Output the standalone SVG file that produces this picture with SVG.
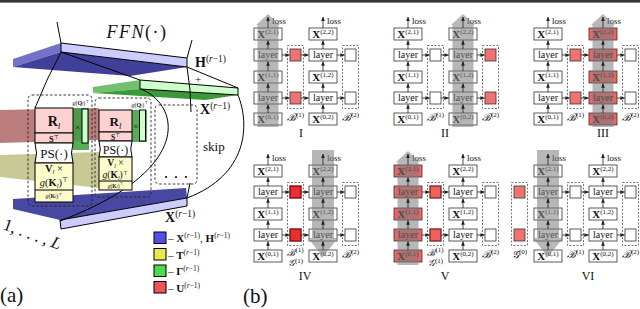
<svg xmlns="http://www.w3.org/2000/svg" width="640" height="309" viewBox="0 0 640 309">
<defs>
<marker id="ah" viewBox="0 0 6 6" refX="5.5" refY="3" markerWidth="4.5" markerHeight="4.5" markerUnits="userSpaceOnUse" orient="auto"><path d="M0,0.5 L6,3 L0,5.5 z" fill="#222"/></marker>
<style>
.t{font-family:"Liberation Serif","DejaVu Serif",serif;fill:#111}
.m{text-anchor:middle}
.xl{font-size:11px;text-anchor:middle}
.ly{font-size:10px;text-anchor:middle}
.ls{font-size:9px}
.sp{font-size:7px;font-style:normal}
.bl{font-size:10.5px;text-anchor:middle;font-style:italic}
.bs{font-size:9.5px;text-anchor:middle;font-style:italic}
.rn{font-size:12px;text-anchor:middle}
.b{font-weight:bold}
.i{font-style:italic}
.bx{fill:#fff;stroke:#333;stroke-width:0.8}
.rb{fill:#ee6464;stroke:#333;stroke-width:0.8}
.sq{fill:#fff;stroke:#333;stroke-width:0.8}
.sqr{fill:#f07272;stroke:#333;stroke-width:0.8}
.sqd{fill:#e83030;stroke:#8a0c0c;stroke-width:1.4}
.sqv{fill:#f06060;stroke:#7a2020;stroke-width:1.3}
.db{fill:none;stroke:#555;stroke-width:0.8;stroke-dasharray:2 1.5}
.ar{fill:none;stroke:#222;stroke-width:0.8;marker-end:url(#ah)}
.ga{fill:#7c7c7c;fill-opacity:0.55}
.ln{fill:none;stroke:#000;stroke-width:1}
.dsh{fill:none;stroke:#222;stroke-width:0.9;stroke-dasharray:2.5 2}
.pk{fill:#fcd2d2;stroke:#000;stroke-width:1}
.yl{fill:#fbfbcc;stroke:#000;stroke-width:1}
.lg{stroke:#000;stroke-width:1}
</style>
</defs>
<rect x="0" y="0" width="640" height="2.6" fill="#333"/>

<!-- panel (a) background bands -->
<g id="bands">
<polygon points="0,110 99,108 99,140 0,143" fill="#983838" fill-opacity="0.65"/>
<polygon points="0,155 99,152 99,188 0,177" fill="#a5a550" fill-opacity="0.6"/>
<rect x="73" y="108" width="16" height="42" fill="#3c9c3c" fill-opacity="0.85"/>
<rect x="132" y="110" width="15" height="32" fill="#3c9c3c" fill-opacity="0.85"/>
</g>

<g id="plate-H">
<polygon points="13,59 61,43 61,52 13,67" fill="#7272c6"/>
<polygon points="61,52 187,67 130,76 13,67" fill="#40409a"/>
<polygon points="61,43 187,58 187,67 61,52" fill="#ccccff" stroke="#000" stroke-width="1"/>
<text class="t" x="195" y="67" font-size="14"><tspan class="b">H</tspan><tspan font-size="9.5" dy="-5">(<tspan class="i">r</tspan>−1)</tspan></text>
</g>
<g id="plate-green">
<polygon points="93,87 140,80 140,89 93,93" fill="#70c070"/>
<polygon points="140,89 238,95 205,100 93,93" fill="#3a9a3a"/>
<polygon points="140,80 238,88 238,95 140,89" fill="#ccffcc" stroke="#000" stroke-width="1"/>
<text class="t m" x="198" y="83" font-size="11">+</text>
<text class="t" x="200" y="114" font-size="14"><tspan class="b">X</tspan><tspan font-size="9.5" dy="-5">(<tspan class="i">r</tspan>−1)</tspan></text>
</g>
<g id="plate-X">
<polygon points="13,199 186,188 187,198 60,220 13,209" fill="#4848a2"/>
<polygon points="60,220 187,198 187,206 61,229" fill="#ccccff" stroke="#000" stroke-width="1"/>
<text class="t" x="165" y="222" font-size="14"><tspan class="b">X</tspan><tspan font-size="9.5" dy="-5">(<tspan class="i">r</tspan>−1)</tspan></text>
</g>

<g id="connectors-a">
<path class="ln" d="M57,22 L61,43"/>
<path class="ln" d="M192,40 L187,58"/>
<path class="ln" d="M61,52 L140,80"/>
<path class="ln" d="M187,67 L238,88"/>
<path class="ln" d="M61,52 Q47,78 35,108"/>
<path class="ln" d="M187,67 L190,90 L191,112"/>
<path class="ln" d="M190,183 L187,198"/>
<path class="ln" d="M141,89 C180,105 195,170 60,221"/>
<path class="ln" d="M238,95 C250,125 248,175 187,198"/>
</g>

<text class="t m" x="137" y="38" font-size="18" letter-spacing="1.5"><tspan class="i">FFN</tspan>(·)</text>

<g id="head-1">
<rect class="dsh" x="28" y="95" width="64" height="111" rx="4"/>
<rect class="pk" x="35" y="108" width="38" height="25"/>
<rect class="pk" x="35" y="133" width="38" height="10"/>
<path d="M35,143 L73,143 Q70,153 73,163 L35,163 Q38,153 35,143 Z" fill="#fff" stroke="#000" stroke-width="1"/>
<rect class="yl" x="35" y="163" width="38" height="39"/>
<path class="ln" d="M35,190 H73"/>
<rect x="82" y="109" width="6" height="34" fill="#ccffcc" stroke="#000" stroke-width="1"/>
<text class="t m" x="54" y="126" font-size="14"><tspan class="b">R</tspan><tspan class="i" font-size="9" dy="3">l</tspan></text>
<text class="t m" x="54" y="141.5" font-size="8.5"><tspan class="b">S</tspan><tspan font-size="5.5" dy="-3">⊤</tspan></text>
<text class="t m" x="54" y="158" font-size="13">PS(·)</text>
<text class="t m" x="54" y="172" font-size="10.5"><tspan class="b">V</tspan><tspan class="i" font-size="6.5" dy="1.5">l</tspan><tspan dy="-1.5"> ×</tspan></text>
<text class="t m" x="54" y="186" font-size="10.5"><tspan class="i">g</tspan>(<tspan class="b">K</tspan><tspan class="i" font-size="6.5" dy="1.5">l</tspan><tspan dy="-1.5">)</tspan><tspan font-size="6.5" dy="-4">⊤</tspan></text>
<text class="t m" x="54" y="198" font-size="6"><tspan class="i">g</tspan>(<tspan class="b">K</tspan><tspan class="i" font-size="4.5">l</tspan>)<tspan font-size="4.5" dy="-2.5">⊤</tspan></text>
<text class="t m" x="77.5" y="129.5" font-size="9" fill="#333">×</text>
<text class="t m" x="81" y="105" font-size="6"><tspan class="i">g</tspan>(<tspan class="b">Q</tspan><tspan class="i" font-size="4.5">l</tspan>)<tspan font-size="4.5" dy="-2.5">⊤</tspan></text>
</g>

<g id="head-2">
<rect class="dsh" x="95" y="98" width="56" height="99" rx="4"/>
<rect class="pk" x="99" y="110" width="33" height="22"/>
<rect class="pk" x="99" y="132" width="33" height="9"/>
<path d="M99,141 L132,141 Q129.5,149 132,157 L99,157 Q101.5,149 99,141 Z" fill="#fff" stroke="#000" stroke-width="1"/>
<rect class="yl" x="99" y="157" width="33" height="33"/>
<path class="ln" d="M99,181 H132"/>
<rect x="139.5" y="110" width="6" height="31" fill="#ccffcc" stroke="#000" stroke-width="1"/>
<text class="t m" x="115.5" y="126" font-size="13"><tspan class="b">R</tspan><tspan class="i" font-size="8.5" dy="3">l</tspan></text>
<text class="t m" x="115.5" y="139.5" font-size="7.5"><tspan class="b">S</tspan><tspan font-size="5" dy="-3">⊤</tspan></text>
<text class="t m" x="115.5" y="153.5" font-size="12">PS(·)</text>
<text class="t m" x="115.5" y="166" font-size="9.5"><tspan class="b">V</tspan><tspan class="i" font-size="6" dy="1.5">l</tspan><tspan dy="-1.5"> ×</tspan></text>
<text class="t m" x="115.5" y="178" font-size="9.5"><tspan class="i">g</tspan>(<tspan class="b">K</tspan><tspan class="i" font-size="6" dy="1.5">l</tspan><tspan dy="-1.5">)</tspan><tspan font-size="6" dy="-3.5">⊤</tspan></text>
<text class="t m" x="115.5" y="187.5" font-size="5.5"><tspan class="i">g</tspan>(<tspan class="b">K</tspan><tspan class="i" font-size="4">l</tspan>)<tspan font-size="4" dy="-2.5">⊤</tspan></text>
<text class="t m" x="135.8" y="128.5" font-size="9" fill="#333">×</text>
<text class="t m" x="140" y="106.5" font-size="6"><tspan class="i">g</tspan>(<tspan class="b">Q</tspan><tspan class="i" font-size="4.5">l</tspan>)<tspan font-size="4.5" dy="-2.5">⊤</tspan></text>
</g>

<g id="skip-box">
<rect class="dsh" x="155" y="105" width="42" height="79" rx="4"/>
<circle cx="166" cy="177" r="1"/><circle cx="176" cy="177" r="1"/><circle cx="186" cy="177" r="1"/>
<text class="t" x="203" y="151" font-size="13">skip</text>
</g>

<text class="t" transform="translate(2,229) rotate(20)" font-size="17">1, . . . , <tspan class="i">L</tspan></text>

<g id="legend">
<g id="leg-X"><rect class="lg" x="154" y="232" width="12" height="11.5" fill="#5050e8"/><text class="t" x="168" y="242" font-size="11">– <tspan class="b">X</tspan><tspan font-size="7.5" dy="-4">(<tspan class="i">r</tspan>−1)</tspan><tspan dy="4">, </tspan><tspan class="b">H</tspan><tspan font-size="7.5" dy="-4">(<tspan class="i">r</tspan>−1)</tspan></text></g>
<g id="leg-T"><rect class="lg" x="154" y="248.5" width="12" height="11.5" fill="#e8e850"/><text class="t" x="168" y="258.5" font-size="11">– <tspan class="b">T</tspan><tspan font-size="7.5" dy="-4">(<tspan class="i">r</tspan>−1)</tspan></text></g>
<g id="leg-G"><rect class="lg" x="154" y="265" width="12" height="11.5" fill="#50d850"/><text class="t" x="168" y="275" font-size="11">– <tspan class="b">Γ</tspan><tspan font-size="7.5" dy="-4">(<tspan class="i">r</tspan>−1)</tspan></text></g>
<g id="leg-U"><rect class="lg" x="154" y="281.5" width="12" height="11.5" fill="#ee5555"/><text class="t" x="168" y="291.5" font-size="11">– <tspan class="b">U</tspan><tspan font-size="7.5" dy="-4">(<tspan class="i">r</tspan>−1)</tspan></text></g>
</g>

<text class="t" x="0" y="302" font-size="21">(a)</text>
<text class="t" x="243" y="303" font-size="21">(b)</text>

<!-- ===== panel (b) ===== -->
<g id="diagram-I">
<g id="I-B1"><rect class="db" x="287.5" y="45.5" width="16" height="63"/><rect class="sqr" x="290" y="49" width="11" height="12"/><rect class="sqr" x="290" y="92" width="11" height="12"/></g>
<g id="I-B2"><rect class="db" x="342.5" y="45.5" width="16" height="63"/><rect class="sq" x="345" y="49" width="11" height="12"/><rect class="sq" x="345" y="92" width="11" height="12"/></g>
<g id="I-x21"><rect class="bx" x="254" y="28" width="28" height="12"/><text class="t xl" x="268" y="37.5"><tspan class="b">X</tspan><tspan class="sp" dy="-4">(2,1)</tspan></text></g>
<g id="I-l2a"><rect class="bx" x="254" y="49" width="28" height="12"/><text class="t ly" x="268" y="58">layer</text></g>
<g id="I-x11"><rect class="bx" x="254" y="71" width="28" height="12"/><text class="t xl" x="268" y="80.5"><tspan class="b">X</tspan><tspan class="sp" dy="-4">(1,1)</tspan></text></g>
<g id="I-l1a"><rect class="bx" x="254" y="92" width="28" height="12"/><text class="t ly" x="268" y="101">layer</text></g>
<g id="I-x01"><rect class="bx" x="254" y="113" width="28" height="12"/><text class="t xl" x="268" y="122.5"><tspan class="b">X</tspan><tspan class="sp" dy="-4">(0,1)</tspan></text></g>
<g id="I-x22"><rect class="bx" x="309" y="28" width="28" height="12"/><text class="t xl" x="323" y="37.5"><tspan class="b">X</tspan><tspan class="sp" dy="-4">(2,2)</tspan></text></g>
<g id="I-l2b"><rect class="bx" x="309" y="49" width="28" height="12"/><text class="t ly" x="323" y="58">layer</text></g>
<g id="I-x12"><rect class="bx" x="309" y="71" width="28" height="12"/><text class="t xl" x="323" y="80.5"><tspan class="b">X</tspan><tspan class="sp" dy="-4">(1,2)</tspan></text></g>
<g id="I-l1b"><rect class="bx" x="309" y="92" width="28" height="12"/><text class="t ly" x="323" y="101">layer</text></g>
<g id="I-x02"><rect class="bx" x="309" y="113" width="28" height="12"/><text class="t xl" x="323" y="122.5"><tspan class="b">X</tspan><tspan class="sp" dy="-4">(0,2)</tspan></text></g>
<text class="t ls" x="272" y="24">loss</text><text class="t ls" x="327" y="24">loss</text>
<text class="t bl" x="295.5" y="121">ℬ<tspan class="sp" dy="-4">(1)</tspan></text>
<text class="t bl" x="350.5" y="121">ℬ<tspan class="sp" dy="-4">(2)</tspan></text>
<polygon class="ga" points="257.5,127 278.5,127 278.5,25 280,25 268,14 256,25 257.5,25"/>
<text class="t rn" x="301" y="137">I</text>
</g>

<g id="diagram-II">
<g id="II-B1"><rect class="db" x="427.5" y="45.5" width="16" height="63"/><rect class="sq" x="430" y="49" width="11" height="12"/><rect class="sq" x="430" y="92" width="11" height="12"/></g>
<g id="II-B2"><rect class="db" x="482.5" y="45.5" width="16" height="63"/><rect class="sqr" x="485" y="49" width="11" height="12"/><rect class="sqr" x="485" y="92" width="11" height="12"/></g>
<g id="II-x21"><rect class="bx" x="394" y="28" width="28" height="12"/><text class="t xl" x="408" y="37.5"><tspan class="b">X</tspan><tspan class="sp" dy="-4">(2,1)</tspan></text></g>
<g id="II-l2a"><rect class="bx" x="394" y="49" width="28" height="12"/><text class="t ly" x="408" y="58">layer</text></g>
<g id="II-x11"><rect class="bx" x="394" y="71" width="28" height="12"/><text class="t xl" x="408" y="80.5"><tspan class="b">X</tspan><tspan class="sp" dy="-4">(1,1)</tspan></text></g>
<g id="II-l1a"><rect class="bx" x="394" y="92" width="28" height="12"/><text class="t ly" x="408" y="101">layer</text></g>
<g id="II-x01"><rect class="bx" x="394" y="113" width="28" height="12"/><text class="t xl" x="408" y="122.5"><tspan class="b">X</tspan><tspan class="sp" dy="-4">(0,1)</tspan></text></g>
<g id="II-x22"><rect class="bx" x="449" y="28" width="28" height="12"/><text class="t xl" x="463" y="37.5"><tspan class="b">X</tspan><tspan class="sp" dy="-4">(2,2)</tspan></text></g>
<g id="II-l2b"><rect class="bx" x="449" y="49" width="28" height="12"/><text class="t ly" x="463" y="58">layer</text></g>
<g id="II-x12"><rect class="bx" x="449" y="71" width="28" height="12"/><text class="t xl" x="463" y="80.5"><tspan class="b">X</tspan><tspan class="sp" dy="-4">(1,2)</tspan></text></g>
<g id="II-l1b"><rect class="bx" x="449" y="92" width="28" height="12"/><text class="t ly" x="463" y="101">layer</text></g>
<g id="II-x02"><rect class="bx" x="449" y="113" width="28" height="12"/><text class="t xl" x="463" y="122.5"><tspan class="b">X</tspan><tspan class="sp" dy="-4">(0,2)</tspan></text></g>
<text class="t ls" x="412" y="24">loss</text><text class="t ls" x="467" y="24">loss</text>
<text class="t bl" x="435.5" y="121">ℬ<tspan class="sp" dy="-4">(1)</tspan></text>
<text class="t bl" x="490.5" y="121">ℬ<tspan class="sp" dy="-4">(2)</tspan></text>
<polygon class="ga" points="452.5,127 473.5,127 473.5,25 475,25 463,14 451,25 452.5,25"/>
<text class="t rn" x="445" y="137">II</text>
</g>

<g id="diagram-III">
<g id="III-B1"><rect class="db" x="567.5" y="45.5" width="16" height="63"/><rect class="sqr" x="570" y="49" width="11" height="12"/><rect class="sqr" x="570" y="92" width="11" height="12"/></g>
<g id="III-B2"><rect class="db" x="622.5" y="45.5" width="16" height="63"/><rect class="sq" x="625" y="49" width="11" height="12"/><rect class="sq" x="625" y="92" width="11" height="12"/></g>
<g id="III-x21"><rect class="bx" x="534" y="28" width="28" height="12"/><text class="t xl" x="548" y="37.5"><tspan class="b">X</tspan><tspan class="sp" dy="-4">(2,1)</tspan></text></g>
<g id="III-l2a"><rect class="bx" x="534" y="49" width="28" height="12"/><text class="t ly" x="548" y="58">layer</text></g>
<g id="III-x11"><rect class="bx" x="534" y="71" width="28" height="12"/><text class="t xl" x="548" y="80.5"><tspan class="b">X</tspan><tspan class="sp" dy="-4">(1,1)</tspan></text></g>
<g id="III-l1a"><rect class="bx" x="534" y="92" width="28" height="12"/><text class="t ly" x="548" y="101">layer</text></g>
<g id="III-x01"><rect class="bx" x="534" y="113" width="28" height="12"/><text class="t xl" x="548" y="122.5"><tspan class="b">X</tspan><tspan class="sp" dy="-4">(0,1)</tspan></text></g>
<g id="III-x22"><rect class="rb" x="589" y="28" width="28" height="12"/><text class="t xl" x="603" y="37.5"><tspan class="b">X</tspan><tspan class="sp" dy="-4">(2,2)</tspan></text></g>
<g id="III-l2b"><rect class="rb" x="589" y="49" width="28" height="12"/><text class="t ly" x="603" y="58">layer</text></g>
<g id="III-x12"><rect class="rb" x="589" y="71" width="28" height="12"/><text class="t xl" x="603" y="80.5"><tspan class="b">X</tspan><tspan class="sp" dy="-4">(1,2)</tspan></text></g>
<g id="III-l1b"><rect class="rb" x="589" y="92" width="28" height="12"/><text class="t ly" x="603" y="101">layer</text></g>
<g id="III-x02"><rect class="rb" x="589" y="113" width="28" height="12"/><text class="t xl" x="603" y="122.5"><tspan class="b">X</tspan><tspan class="sp" dy="-4">(0,2)</tspan></text></g>
<text class="t ls" x="552" y="24">loss</text><text class="t ls" x="607" y="24">loss</text>
<text class="t bl" x="575.5" y="121">ℬ<tspan class="sp" dy="-4">(1)</tspan></text>
<text class="t bl" x="630.5" y="121">ℬ<tspan class="sp" dy="-4">(2)</tspan></text>
<polygon class="ga" points="592.5,127 613.5,127 613.5,25 615,25 603,14 591,25 592.5,25"/>
<text class="t rn" x="603" y="137">III</text>
</g>

<g id="diagram-IV">
<g id="IV-B1"><rect class="db" x="287.5" y="182.5" width="16" height="63"/><rect class="sqd" x="290" y="186" width="11" height="12"/><rect class="sqd" x="290" y="229" width="11" height="12"/></g>
<g id="IV-B2"><rect class="db" x="342.5" y="182.5" width="16" height="63"/><rect class="sq" x="345" y="186" width="11" height="12"/><rect class="sq" x="345" y="229" width="11" height="12"/></g>
<g id="IV-x21"><rect class="bx" x="254" y="165" width="28" height="12"/><text class="t xl" x="268" y="174.5"><tspan class="b">X</tspan><tspan class="sp" dy="-4">(2,1)</tspan></text></g>
<g id="IV-l2a"><rect class="bx" x="254" y="186" width="28" height="12"/><text class="t ly" x="268" y="195">layer</text></g>
<g id="IV-x11"><rect class="bx" x="254" y="208" width="28" height="12"/><text class="t xl" x="268" y="217.5"><tspan class="b">X</tspan><tspan class="sp" dy="-4">(1,1)</tspan></text></g>
<g id="IV-l1a"><rect class="bx" x="254" y="229" width="28" height="12"/><text class="t ly" x="268" y="238">layer</text></g>
<g id="IV-x01"><rect class="bx" x="254" y="250" width="28" height="12"/><text class="t xl" x="268" y="259.5"><tspan class="b">X</tspan><tspan class="sp" dy="-4">(0,1)</tspan></text></g>
<g id="IV-x22"><rect class="bx" x="309" y="165" width="28" height="12"/><text class="t xl" x="323" y="174.5"><tspan class="b">X</tspan><tspan class="sp" dy="-4">(2,2)</tspan></text></g>
<g id="IV-l2b"><rect class="bx" x="309" y="186" width="28" height="12"/><text class="t ly" x="323" y="195">layer</text></g>
<g id="IV-x12"><rect class="bx" x="309" y="208" width="28" height="12"/><text class="t xl" x="323" y="217.5"><tspan class="b">X</tspan><tspan class="sp" dy="-4">(1,2)</tspan></text></g>
<g id="IV-l1b"><rect class="bx" x="309" y="229" width="28" height="12"/><text class="t ly" x="323" y="238">layer</text></g>
<g id="IV-x02"><rect class="bx" x="309" y="250" width="28" height="12"/><text class="t xl" x="323" y="259.5"><tspan class="b">X</tspan><tspan class="sp" dy="-4">(0,2)</tspan></text></g>
<text class="t ls" x="272" y="161">loss</text><text class="t ls" x="327" y="161">loss</text>
<text class="t bs" x="295.5" y="255.5">ℬ<tspan class="sp" font-size="6.5" dy="-3.5">(1)</tspan></text>
<text class="t bs" x="295.5" y="266">𝒢<tspan class="sp" font-size="6.5" dy="-3.5">(1)</tspan></text>
<text class="t bl" x="350.5" y="258">ℬ<tspan class="sp" dy="-4">(2)</tspan></text>
<polygon class="ga" points="312,150 334,150 334,238 338,238 323,257 308,238 312,238"/>
<text class="t rn" x="305" y="280">IV</text>
</g>

<g id="diagram-V">
<g id="V-B1"><rect class="db" x="427.5" y="182.5" width="16" height="63"/><rect class="sqv" x="430" y="186" width="11" height="12"/><rect class="sqv" x="430" y="229" width="11" height="12"/></g>
<g id="V-B2"><rect class="db" x="482.5" y="182.5" width="16" height="63"/><rect class="sq" x="485" y="186" width="11" height="12"/><rect class="sq" x="485" y="229" width="11" height="12"/></g>
<g id="V-x21"><rect class="rb" x="394" y="165" width="28" height="12"/><text class="t xl" x="408" y="174.5"><tspan class="b">X</tspan><tspan class="sp" dy="-4">(2,1)</tspan></text></g>
<g id="V-l2a"><rect class="rb" x="394" y="186" width="28" height="12"/><text class="t ly" x="408" y="195">layer</text></g>
<g id="V-x11"><rect class="rb" x="394" y="208" width="28" height="12"/><text class="t xl" x="408" y="217.5"><tspan class="b">X</tspan><tspan class="sp" dy="-4">(1,1)</tspan></text></g>
<g id="V-l1a"><rect class="rb" x="394" y="229" width="28" height="12"/><text class="t ly" x="408" y="238">layer</text></g>
<g id="V-x01"><rect class="rb" x="394" y="250" width="28" height="12"/><text class="t xl" x="408" y="259.5"><tspan class="b">X</tspan><tspan class="sp" dy="-4">(0,1)</tspan></text></g>
<g id="V-x22"><rect class="bx" x="449" y="165" width="28" height="12"/><text class="t xl" x="463" y="174.5"><tspan class="b">X</tspan><tspan class="sp" dy="-4">(2,2)</tspan></text></g>
<g id="V-l2b"><rect class="bx" x="449" y="186" width="28" height="12"/><text class="t ly" x="463" y="195">layer</text></g>
<g id="V-x12"><rect class="bx" x="449" y="208" width="28" height="12"/><text class="t xl" x="463" y="217.5"><tspan class="b">X</tspan><tspan class="sp" dy="-4">(1,2)</tspan></text></g>
<g id="V-l1b"><rect class="bx" x="449" y="229" width="28" height="12"/><text class="t ly" x="463" y="238">layer</text></g>
<g id="V-x02"><rect class="bx" x="449" y="250" width="28" height="12"/><text class="t xl" x="463" y="259.5"><tspan class="b">X</tspan><tspan class="sp" dy="-4">(0,2)</tspan></text></g>
<text class="t ls" x="412" y="161">loss</text><text class="t ls" x="467" y="161">loss</text>
<text class="t bs" x="435.5" y="255.5">ℬ<tspan class="sp" font-size="6.5" dy="-3.5">(1)</tspan></text>
<text class="t bs" x="435.5" y="266">𝒢<tspan class="sp" font-size="6.5" dy="-3.5">(1)</tspan></text>
<text class="t bl" x="490.5" y="258">ℬ<tspan class="sp" dy="-4">(2)</tspan></text>
<polygon class="ga" points="397.5,265 418.5,265 418.5,162 420,162 408,151 396,162 397.5,162"/>
<text class="t rn" x="445" y="280">V</text>
</g>

<g id="diagram-VI">
<g id="VI-G0"><rect class="db" x="511.5" y="182.5" width="16" height="63"/><rect class="sqr" x="514" y="186" width="11" height="12"/><rect class="sqr" x="514" y="229" width="11" height="12"/></g>
<g id="VI-B1"><rect class="db" x="567.5" y="182.5" width="16" height="63"/><rect class="sq" x="570" y="186" width="11" height="12"/><rect class="sq" x="570" y="229" width="11" height="12"/></g>
<g id="VI-B2"><rect class="db" x="622.5" y="182.5" width="16" height="63"/><rect class="sq" x="625" y="186" width="11" height="12"/><rect class="sq" x="625" y="229" width="11" height="12"/></g>
<g id="VI-x21"><rect class="bx" x="534" y="165" width="28" height="12"/><text class="t xl" x="548" y="174.5"><tspan class="b">X</tspan><tspan class="sp" dy="-4">(2,1)</tspan></text></g>
<g id="VI-l2a"><rect class="bx" x="534" y="186" width="28" height="12"/><text class="t ly" x="548" y="195">layer</text></g>
<g id="VI-x11"><rect class="bx" x="534" y="208" width="28" height="12"/><text class="t xl" x="548" y="217.5"><tspan class="b">X</tspan><tspan class="sp" dy="-4">(1,1)</tspan></text></g>
<g id="VI-l1a"><rect class="bx" x="534" y="229" width="28" height="12"/><text class="t ly" x="548" y="238">layer</text></g>
<g id="VI-x01"><rect class="bx" x="534" y="250" width="28" height="12"/><text class="t xl" x="548" y="259.5"><tspan class="b">X</tspan><tspan class="sp" dy="-4">(0,1)</tspan></text></g>
<g id="VI-x22"><rect class="bx" x="589" y="165" width="28" height="12"/><text class="t xl" x="603" y="174.5"><tspan class="b">X</tspan><tspan class="sp" dy="-4">(2,2)</tspan></text></g>
<g id="VI-l2b"><rect class="bx" x="589" y="186" width="28" height="12"/><text class="t ly" x="603" y="195">layer</text></g>
<g id="VI-x12"><rect class="bx" x="589" y="208" width="28" height="12"/><text class="t xl" x="603" y="217.5"><tspan class="b">X</tspan><tspan class="sp" dy="-4">(1,2)</tspan></text></g>
<g id="VI-l1b"><rect class="bx" x="589" y="229" width="28" height="12"/><text class="t ly" x="603" y="238">layer</text></g>
<g id="VI-x02"><rect class="bx" x="589" y="250" width="28" height="12"/><text class="t xl" x="603" y="259.5"><tspan class="b">X</tspan><tspan class="sp" dy="-4">(0,2)</tspan></text></g>
<text class="t ls" x="552" y="161">loss</text><text class="t ls" x="607" y="161">loss</text>
<text class="t bl" x="519.5" y="258">𝒢<tspan class="sp" dy="-4">(0)</tspan></text>
<text class="t bl" x="575.5" y="258">ℬ<tspan class="sp" dy="-4">(1)</tspan></text>
<text class="t bl" x="630.5" y="258">ℬ<tspan class="sp" dy="-4">(2)</tspan></text>
<polygon class="ga" points="537,150 559,150 559,238 563,238 548,257 533,238 537,238"/>
<text class="t rn" x="588" y="280">VI</text>
</g>

<g id="connectors">
<path class="ar" d="M268,113V104.5"/><path class="ar" d="M268,92V83.5"/><path class="ar" d="M268,71V61.5"/><path class="ar" d="M268,49V40.5"/><path class="ar" d="M268,28V17"/>
<path class="ar" d="M323,113V104.5"/><path class="ar" d="M323,92V83.5"/><path class="ar" d="M323,71V61.5"/><path class="ar" d="M323,49V40.5"/><path class="ar" d="M323,28V17"/>
<path class="ar" d="M282,55H289.5"/><path class="ar" d="M301,55H308.5"/><path class="ar" d="M337,55H344.5"/>
<path class="ar" d="M282,98H289.5"/><path class="ar" d="M301,98H308.5"/><path class="ar" d="M337,98H344.5"/>
<path class="ar" d="M408,113V104.5"/><path class="ar" d="M408,92V83.5"/><path class="ar" d="M408,71V61.5"/><path class="ar" d="M408,49V40.5"/><path class="ar" d="M408,28V17"/>
<path class="ar" d="M463,113V104.5"/><path class="ar" d="M463,92V83.5"/><path class="ar" d="M463,71V61.5"/><path class="ar" d="M463,49V40.5"/><path class="ar" d="M463,28V17"/>
<path class="ar" d="M422,55H429.5"/><path class="ar" d="M441,55H448.5"/><path class="ar" d="M477,55H484.5"/>
<path class="ar" d="M422,98H429.5"/><path class="ar" d="M441,98H448.5"/><path class="ar" d="M477,98H484.5"/>
<path class="ar" d="M548,113V104.5"/><path class="ar" d="M548,92V83.5"/><path class="ar" d="M548,71V61.5"/><path class="ar" d="M548,49V40.5"/><path class="ar" d="M548,28V17"/>
<path class="ar" d="M603,113V104.5"/><path class="ar" d="M603,92V83.5"/><path class="ar" d="M603,71V61.5"/><path class="ar" d="M603,49V40.5"/><path class="ar" d="M603,28V17"/>
<path class="ar" d="M562,55H569.5"/><path class="ar" d="M581,55H588.5"/><path class="ar" d="M617,55H624.5"/>
<path class="ar" d="M562,98H569.5"/><path class="ar" d="M581,98H588.5"/><path class="ar" d="M617,98H624.5"/>
<path class="ar" d="M268,250V241.5"/><path class="ar" d="M268,229V220.5"/><path class="ar" d="M268,208V198.5"/><path class="ar" d="M268,186V177.5"/><path class="ar" d="M268,165V154"/>
<path class="ar" d="M323,250V241.5"/><path class="ar" d="M323,229V220.5"/><path class="ar" d="M323,208V198.5"/><path class="ar" d="M323,186V177.5"/><path class="ar" d="M323,165V154"/>
<path class="ar" d="M282,192H289.5"/><path class="ar" d="M301,192H308.5"/><path class="ar" d="M337,192H344.5"/>
<path class="ar" d="M282,235H289.5"/><path class="ar" d="M301,235H308.5"/><path class="ar" d="M337,235H344.5"/>
<path class="ar" d="M408,250V241.5"/><path class="ar" d="M408,229V220.5"/><path class="ar" d="M408,208V198.5"/><path class="ar" d="M408,186V177.5"/><path class="ar" d="M408,165V154"/>
<path class="ar" d="M463,250V241.5"/><path class="ar" d="M463,229V220.5"/><path class="ar" d="M463,208V198.5"/><path class="ar" d="M463,186V177.5"/><path class="ar" d="M463,165V154"/>
<path class="ar" d="M422,192H429.5"/><path class="ar" d="M441,192H448.5"/><path class="ar" d="M477,192H484.5"/>
<path class="ar" d="M422,235H429.5"/><path class="ar" d="M441,235H448.5"/><path class="ar" d="M477,235H484.5"/>
<path class="ar" d="M548,250V241.5"/><path class="ar" d="M548,229V220.5"/><path class="ar" d="M548,208V198.5"/><path class="ar" d="M548,186V177.5"/><path class="ar" d="M548,165V154"/>
<path class="ar" d="M603,250V241.5"/><path class="ar" d="M603,229V220.5"/><path class="ar" d="M603,208V198.5"/><path class="ar" d="M603,186V177.5"/><path class="ar" d="M603,165V154"/>
<path class="ar" d="M562,192H569.5"/><path class="ar" d="M581,192H588.5"/><path class="ar" d="M617,192H624.5"/>
<path class="ar" d="M562,235H569.5"/><path class="ar" d="M581,235H588.5"/><path class="ar" d="M617,235H624.5"/>
</g>
</svg>
